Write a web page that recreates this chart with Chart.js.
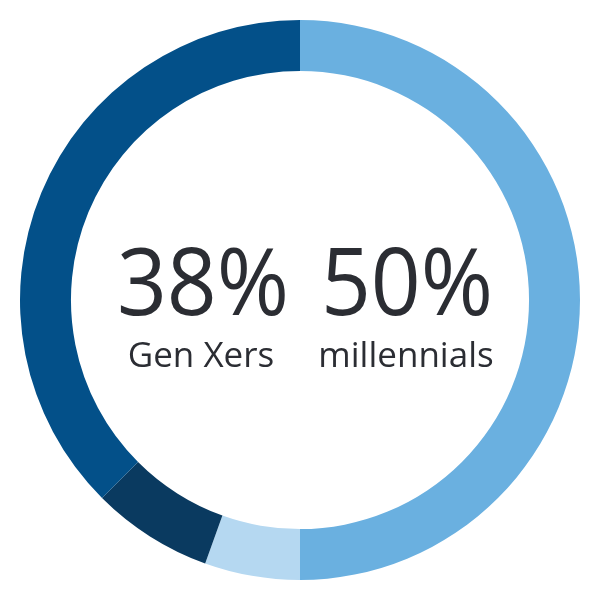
<!DOCTYPE html>
<html>
<head>
<meta charset="utf-8">
<script src="https://cdn.jsdelivr.net/npm/chart.js@4"></script>
<style>
  html, body { margin: 0; padding: 0; background: #fff; }
  #wrap { width: 600px; height: 600px; }
</style>
</head>
<body>
<div id="wrap"><canvas id="chart"></canvas></div>
<script>
// segments clockwise from 12 o'clock
const segments = ["millennials", "other (light)", "other (dark)", "Gen Xers"];
const shares = [50, 5.5, 7, 37.5];
const segmentColors = ["#6AB0E0", "#B5D8F1", "#0A3A60", "#035089"];

// centre labels
const labelValues = ["38%", "50%"];
const labelNames = ["Gen Xers", "millennials"];

const centerLabels = {
  id: "centerLabels",
  afterDraw(chart) {
    const ctx = chart.ctx;
    const valueX = [203, 407];
    const nameX = [201, 406];
    ctx.save();
    ctx.fillStyle = "#2B2D33";
    ctx.textAlign = "center";
    ctx.textBaseline = "alphabetic";
    labelValues.forEach((v, i) => {
      // the original face is a bit narrower than Open Sans
      ctx.save();
      ctx.translate(valueX[i], 315);
      ctx.scale(0.94, 1);
      ctx.font = "93px 'Open Sans'";
      ctx.fillText(v, 0, 0);
      ctx.restore();
      ctx.font = "35px 'Open Sans'";
      ctx.fillText(labelNames[i], nameX[i], 367);
    });
    ctx.restore();
  },
};

new Chart(document.getElementById("chart"), {
  type: "doughnut",
  data: {
    labels: segments,
    datasets: [
      {
        data: shares,
        backgroundColor: segmentColors,
        borderWidth: 0,
      },
    ],
  },
  options: {
    responsive: true,
    maintainAspectRatio: false,
    animation: false,
    cutout: "81.8%",
    layout: { padding: 20 },
    plugins: {
      legend: { display: false },
      tooltip: { enabled: false },
    },
  },
  plugins: [centerLabels],
});
</script>
</body>
</html>
